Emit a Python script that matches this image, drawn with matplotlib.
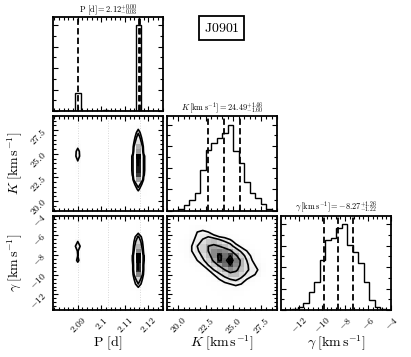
import numpy as np
import matplotlib
matplotlib.use("Agg")
import matplotlib.pyplot as plt
from matplotlib.colors import LinearSegmentedColormap
from matplotlib.ticker import FixedLocator, AutoMinorLocator, MultipleLocator, NullFormatter

plt.rcParams['mathtext.fontset'] = 'cm'

# ---------------- data ----------------
P_range = (2.0795, 2.1262)
K_range = (19.0, 29.0)
g_range = (-13.58, -4.0)
nbins = 20

# 1D marginal histograms (relative heights, peak = 1)
P_hist = [0, 0, 0, 0, 0.21, 0, 0, 0, 0, 0.015, 0, 0, 0, 0, 0, 1.0, 0, 0, 0, 0]
K_hist = [0, 0, 0.02, 0.06, 0.125, 0.2, 0.47, 0.71, 0.79, 0.84, 0.90, 1.0, 0.69, 0.55,
          0.33, 0.2, 0.14, 0.08, 0.02, 0]
g_hist = [0, 0, 0.01, 0.03, 0.08, 0.21, 0.33, 0.585, 0.82, 0.84, 0.96, 1.0, 0.76, 0.68,
          0.55, 0.33, 0.12, 0.03, 0.01, 0]

# quantile (16/50/84 %) lines
P_q = [2.0900, 2.1162, 2.1165]
K_q = [22.75, 24.20, 25.65]
g_q = [-9.86, -8.60, -7.28]

titles = [r'$\mathrm{P\ [d]} = 2.12^{+0.00}_{-0.03}$',
          r'$K\,[\mathrm{km\,s^{-1}}] = 24.49^{+1.46}_{-1.60}$',
          r'$\gamma\,[\mathrm{km\,s^{-1}}] = -8.27^{+1.26}_{-1.22}$']
axis_labels = [r'$\mathrm{P\ [d]}$', r'$K\;[\mathrm{km\,s^{-1}}]$', r'$\gamma\;[\mathrm{km\,s^{-1}}]$']
name_label = r'$\mathrm{J0901}$'

P_ticks = [2.09, 2.10, 2.11, 2.12]
P_ticklabels = ['2.09', '2.1', '2.11', '2.12']
K_ticks = [20.0, 22.5, 25.0, 27.5]
K_ticklabels = ['20.0', '22.5', '25.0', '27.5']
g_ticks = [-12, -10, -8, -6, -4]
g_ticklabels = ['-12', '-10', '-8', '-6', '-4']

# 2D: P-K  (columns of K-bins at the period peaks)
P_main_bin = 15
P_alias_bin = 4
PK_main = [0, 0, 0.02, 0.06, 0.12, 0.2, 0.47, 0.68, 0.74, 0.74, 0.75, 0.78, 0.49, 0.43,
           0.27, 0.2, 0.14, 0.08, 0.02, 0]
PK_main_side = [0, 0, 0, 0.01, 0.02, 0.04, 0.08, 0.11, 0.12, 0.12, 0.12, 0.12, 0.08, 0.07,
                0.05, 0.03, 0.02, 0.01, 0, 0]
PK_alias = [0, 0, 0, 0, 0, 0, 0, 0.02, 0.035, 0.07, 0.1, 0.15, 0.14, 0.08, 0.04, 0, 0, 0, 0, 0]
# 2D: P-gamma
Pg_main = [0, 0, 0.01, 0.03, 0.08, 0.21, 0.33, 0.585, 0.77, 0.76, 0.84, 0.85, 0.59, 0.46,
           0.35, 0.23, 0.08, 0.03, 0.01, 0]
Pg_main_side = [0, 0, 0, 0, 0.01, 0.03, 0.05, 0.09, 0.12, 0.12, 0.13, 0.13, 0.09, 0.07,
                0.05, 0.03, 0.01, 0, 0, 0]
Pg_alias = [0, 0, 0, 0, 0, 0, 0, 0, 0.04, 0.07, 0.15, 0.12, 0.13, 0.21, 0.12, 0.05, 0.02, 0, 0, 0]
# faint sample streaks in the period panels
P_streaks = [2.0900, 2.1027, 2.1163]

# 2D: K-gamma, rows = gamma bins from top (high gamma) to bottom, cols = K bins
Kg_rows_top_down = [
    [0, 0, 0, 0, 0, 0, 0, 0, 0, 0, 0, 0, 0, 0, 0, 0, 0, 0, 0, 0],
    [0, 0, 0, 0, 0, 0, 0, 0, 0, 0, 0, 0, 0, 0, 0, 0, 0, 0, 0, 0],
    [0, 0, 0, 0, 1, 2, 3, 1, 0, 0, 0, 0, 0, 0, 0, 0, 0, 0, 0, 0],
    [0, 0, 0, 0, 2, 5, 6, 5, 2, 1, 1, 0, 0, 0, 0, 0, 0, 0, 0, 0],
    [0, 0, 0, 1, 3, 6, 8, 9, 7, 5, 4, 2, 1, 0, 0, 0, 0, 0, 0, 0],
    [0, 0, 1, 2, 4, 7, 10, 13, 14, 12, 9, 7, 3, 2, 1, 0, 0, 0, 0, 0],
    [0, 0, 1, 2, 5, 9, 12, 16, 17, 16, 14, 11, 7, 4, 2, 1, 0, 0, 0, 0],
    [0, 0, 1, 2, 5, 8, 12, 16, 19, 20, 19, 17, 12, 8, 5, 3, 1, 0, 0, 0],
    [0, 0, 0, 2, 4, 6, 10, 14, 19, 26, 21, 24, 17, 12, 7, 4, 2, 0, 0, 0],
    [0, 0, 0, 1, 3, 5, 8, 12, 17, 25, 22, 28, 20, 15, 9, 5, 3, 1, 0, 0],
    [0, 0, 0, 0, 1, 3, 5, 9, 13, 17, 21, 24, 19, 15, 10, 6, 4, 2, 0, 0],
    [0, 0, 0, 0, 0, 1, 3, 5, 9, 12, 16, 19, 17, 14, 10, 7, 5, 2, 0, 0],
    [0, 0, 0, 0, 0, 0, 1, 3, 5, 8, 11, 14, 14, 11, 8, 6, 4, 1, 0, 0],
    [0, 0, 0, 0, 0, 0, 0, 1, 3, 5, 7, 9, 10, 8, 5, 3, 1, 0, 0, 0],
    [0, 0, 0, 0, 0, 0, 0, 1, 1, 2, 4, 5, 6, 5, 3, 1, 0, 0, 0, 0],
    [0, 0, 0, 0, 0, 0, 0, 0, 1, 1, 2, 2, 3, 2, 1, 0, 0, 0, 0, 0],
    [0, 0, 0, 0, 0, 0, 0, 0, 0, 1, 1, 1, 1, 1, 0, 0, 0, 0, 0, 0],
    [0, 0, 0, 0, 0, 0, 0, 0, 0, 0, 1, 1, 0, 0, 0, 0, 0, 0, 0, 0],
    [0, 0, 0, 0, 0, 0, 0, 0, 0, 0, 0, 0, 0, 0, 0, 0, 0, 0, 0, 0],
    [0, 0, 0, 0, 0, 0, 0, 0, 0, 0, 0, 0, 0, 0, 0, 0, 0, 0, 0, 0],
]

# ---------------- figure ----------------
W, Hpx = 411, 357
fig = plt.figure(figsize=(W / 100, Hpx / 100), dpi=100)
col_left = [53, 167, 281]
col_w = 110
row_top = [16.5, 116, 215.5]
row_h = 94.5


def make_ax(r, c):
    return fig.add_axes([col_left[c] / W, 1 - (row_top[r] + row_h) / Hpx, col_w / W, row_h / Hpx])


edges = {
    'P': np.linspace(*P_range, nbins + 1),
    'K': np.linspace(*K_range, nbins + 1),
    'g': np.linspace(*g_range, nbins + 1),
}
ranges = {'P': P_range, 'K': K_range, 'g': g_range}
ticks = {'P': (P_ticks, P_ticklabels), 'K': (K_ticks, K_ticklabels), 'g': (g_ticks, g_ticklabels)}
TICKFS = 7


def style(ax):
    ax.tick_params(which='both', direction='in', top=True, right=True, width=0.8)
    ax.tick_params(which='major', length=3.5)
    ax.tick_params(which='minor', length=2)
    for s in ax.spines.values():
        s.set_linewidth(1.3)


def set_axis(ax, which, key, labels):
    t, tl = ticks[key]
    axis = ax.xaxis if which == 'x' else ax.yaxis
    axis.set_major_locator(FixedLocator(t))
    axis.set_minor_locator(AutoMinorLocator(5))
    if labels:
        if which == 'x':
            ax.set_xticklabels(['$%s$' % s for s in tl], rotation=45, fontsize=TICKFS)
        else:
            ax.set_yticklabels(['$%s$' % s for s in tl], rotation=45, fontsize=TICKFS)
    else:
        axis.set_major_formatter(NullFormatter())


def hist1d(ax, key, vals, q):
    e = edges[key]
    v = np.asarray(vals, float)
    ax.stairs(v, e, color='k', lw=1.0, baseline=0)
    for x in q:
        ax.axvline(x, color='k', ls='--', lw=1.3, dashes=(3.5, 1.8))
    ax.set_xlim(*ranges[key])
    ax.set_ylim(0, 1.1 * v.max())
    ax.yaxis.set_major_locator(MultipleLocator(0.25))
    ax.yaxis.set_minor_locator(AutoMinorLocator(2))
    ax.yaxis.set_major_formatter(NullFormatter())
    style(ax)


density_cmap = LinearSegmentedColormap.from_list('density_cmap', ['k', (1, 1, 1, 0)])


def hist2d(ax, xkey, ykey, H):
    xe, ye = edges[xkey], edges[ykey]
    H = np.asarray(H, float)
    levels = 1.0 - np.exp(-0.5 * np.arange(0.5, 2.1, 0.5) ** 2)
    Hflat = H.flatten()
    Hs = Hflat[np.argsort(Hflat)[::-1]]
    sm = np.cumsum(Hs)
    sm /= sm[-1]
    V = np.empty(len(levels))
    for i, v0 in enumerate(levels):
        sel = Hs[sm <= v0]
        V[i] = sel[-1] if len(sel) else Hs[0]
    V.sort()
    m = np.diff(V) == 0
    while np.any(m):
        V[np.where(m)[0][0]] *= 1.0 - 1e-4
        m = np.diff(V) == 0
    ax.pcolormesh(xe, ye, H.max() - H.T, cmap=density_cmap, shading='flat', zorder=1)
    xc = 0.5 * (xe[1:] + xe[:-1])
    yc = 0.5 * (ye[1:] + ye[:-1])
    dx, dy = xe[1] - xe[0], ye[1] - ye[0]
    X2 = np.concatenate([[xc[0] - dx], xc, [xc[-1] + dx]])
    Y2 = np.concatenate([[yc[0] - dy], yc, [yc[-1] + dy]])
    H2 = np.zeros((H.shape[0] + 2, H.shape[1] + 2))
    H2[1:-1, 1:-1] = H
    ax.contour(X2, Y2, H2.T, V, colors='k', linewidths=1.2, zorder=3)
    ax.set_xlim(*ranges[xkey])
    ax.set_ylim(*ranges[ykey])
    style(ax)


# --- diagonal ---
ax00 = make_ax(0, 0)
hist1d(ax00, 'P', P_hist, P_q)
set_axis(ax00, 'x', 'P', False)

ax11 = make_ax(1, 1)
hist1d(ax11, 'K', K_hist, K_q)
set_axis(ax11, 'x', 'K', False)

ax22 = make_ax(2, 2)
hist1d(ax22, 'g', g_hist, g_q)
set_axis(ax22, 'x', 'g', True)

# --- P-K ---
H_PK = np.zeros((nbins, nbins))
H_PK[P_main_bin] = PK_main
H_PK[P_main_bin - 1] = PK_main_side
H_PK[P_main_bin + 1] = PK_main_side
H_PK[P_alias_bin] = PK_alias
ax10 = make_ax(1, 0)
ax10.vlines(P_streaks, K_range[0], K_range[1], colors='0.6', lw=0.6, linestyles=(0, (1, 2)), alpha=0.5, zorder=0)
hist2d(ax10, 'P', 'K', H_PK)
set_axis(ax10, 'x', 'P', False)
set_axis(ax10, 'y', 'K', True)

# --- P-gamma ---
H_Pg = np.zeros((nbins, nbins))
H_Pg[P_main_bin] = Pg_main
H_Pg[P_main_bin - 1] = Pg_main_side
H_Pg[P_main_bin + 1] = Pg_main_side
H_Pg[P_alias_bin] = Pg_alias
ax20 = make_ax(2, 0)
ax20.vlines(P_streaks, g_range[0], g_range[1], colors='0.6', lw=0.6, linestyles=(0, (1, 2)), alpha=0.5, zorder=0)
hist2d(ax20, 'P', 'g', H_Pg)
set_axis(ax20, 'x', 'P', True)
set_axis(ax20, 'y', 'g', True)

# --- K-gamma ---
H_Kg = np.array(Kg_rows_top_down[::-1], float).T  # shape (K, gamma)
ax21 = make_ax(2, 1)
hist2d(ax21, 'K', 'g', H_Kg)
set_axis(ax21, 'x', 'K', True)
set_axis(ax21, 'y', 'g', False)

# --- texts ---
def ftext(xpx, ypx, s, **kw):
    fig.text(xpx / W, 1 - ypx / Hpx, s, ha='center', va='center', **kw)

ftext(108, 10, titles[0], fontsize=6)
ftext(222, 108, titles[1], fontsize=6)
ftext(336, 207.5, titles[2], fontsize=6)

for c, lab in enumerate(axis_labels):
    ftext(col_left[c] + col_w / 2, 343, lab, fontsize=10)
ftext(15, row_top[1] + row_h / 2, axis_labels[1], fontsize=10, rotation=90)
ftext(15, row_top[2] + row_h / 2, axis_labels[2], fontsize=10, rotation=90)

ftext(221.5, 28, name_label, fontsize=10,
      bbox=dict(boxstyle='square,pad=0.35', fc='white', ec='k', lw=1.3))

fig.savefig('out.png', dpi=100)
